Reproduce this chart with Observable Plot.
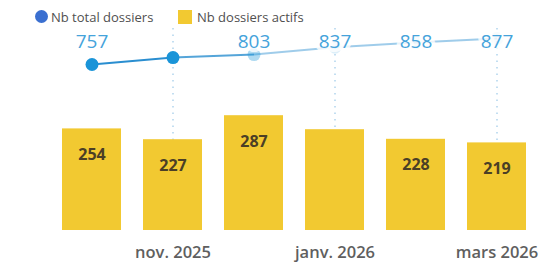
<!DOCTYPE html>
<html><head><meta charset="utf-8">
<script src="https://cdn.jsdelivr.net/npm/d3@7"></script>
<script src="https://cdn.jsdelivr.net/npm/@observablehq/plot@0.6"></script>
<style>
body{margin:0;background:#fff;font-family:"Open Sans",sans-serif;}
#wrap{position:relative;width:552px;height:275px;overflow:hidden;background:#fff}
#legend{position:relative;height:26px;width:552px;font-size:13px;color:#505050}
#legend .sw{position:absolute}
#legend .lt{position:absolute;top:8px;line-height:18px;white-space:nowrap}
#chart{position:relative;width:552px;height:249px}
#chart svg{position:absolute;left:0;top:0;overflow:visible}
</style></head><body>
<div id="wrap">
  <div id="legend">
    <span class="sw" style="left:35px;top:10px;width:13px;height:13px;border-radius:50%;background:#3a6fd0"></span>
    <span class="lt" style="left:51px">Nb total dossiers</span>
    <span class="sw" style="left:178px;top:10px;width:14px;height:14px;background:#F2C931"></span>
    <span class="lt" style="left:197px">Nb dossiers actifs</span>
  </div>
  <div id="chart"></div>
</div>
<script>
// ---- data ----
const months = ["oct. 2025", "nov. 2025", "déc. 2025", "janv. 2026", "févr. 2026", "mars 2026"];
const totalDossiers = [757, 789, 803, 837, 858, 877];
const totalLabelShown = [true, false, true, true, true, true];
const activeDossiers = [254, 227, 287, 252, 228, 219];
const activeLabelShown = [true, true, true, false, true, true];
const tickLabels = ["nov. 2025", "janv. 2026", "mars 2026"];

const rows = months.map((m, i) => ({
  month: m, i,
  total: totalDossiers[i], showTotal: totalLabelShown[i],
  active: activeDossiers[i], showActive: activeLabelShown[i]
}));
// consecutive segments of the total line (faded toward the right, as in the picture)
const segments = rows.slice(1).map((d, k) => ({m1: rows[k].month, t1: rows[k].total, m2: d.month, t2: d.total, k}));
const segOpacity = k => (k === 0 ? 1 : k === 1 ? 0.8 : 0.45);
const dotOpacity = i => (i < 2 ? 1 : i === 2 ? 0.35 : 0.15);

const W = 552, H = 249;
const xScale = {type: "band", domain: months, paddingInner: 0.268, paddingOuter: 0};
const margins = {marginLeft: 61, marginRight: 25};

// bars, grid, axis
const plotA = Plot.plot({
  width: W, height: H, ...margins, marginTop: 2, marginBottom: 45,
  style: {fontFamily: "'Open Sans', sans-serif", background: "transparent"},
  x: {...xScale, axis: null, label: null},
  y: {domain: [0, 505], axis: null},
  marks: [
    Plot.gridX(tickLabels, {stroke: "#9cc9e8", strokeOpacity: 1, strokeDasharray: "1.5,5", strokeWidth: 1.2}),
    Plot.barY(rows, {x: "month", y: "active", fill: "#F2C931"}),
    Plot.text(rows.filter(d => d.showActive), {
      x: "month", y: "active", text: d => String(d.active),
      dy: 26, fontSize: 16, fontWeight: "bold", fill: "#4b3f26"
    }),
    Plot.axisX(tickLabels, {tickSize: 0, tickPadding: 16, fontSize: 16.5, fontWeight: 600, fill: "#5f5f5f", label: null})
  ]
});

// line, points, labels
const plotB = Plot.plot({
  width: W, height: H, ...margins, marginTop: 15, marginBottom: 45,
  style: {fontFamily: "'Open Sans', sans-serif", background: "transparent"},
  x: {...xScale, axis: null, label: null},
  y: {domain: d3.extent(totalDossiers), range: [38, 12], axis: null},
  marks: [
    Plot.link(segments, {
      x1: "m1", y1: "t1", x2: "m2", y2: "t2",
      stroke: "#2a8ed0", strokeWidth: 2, strokeOpacity: d => segOpacity(d.k)
    }),
    Plot.dot(rows, {x: "month", y: "total", r: 6.5, fill: "#1a94d8", fillOpacity: d => dotOpacity(d.i)}),
    Plot.text(rows.filter(d => d.showTotal), {
      x: "month", frameAnchor: "top", lineAnchor: "middle", text: d => String(d.total),
      fontSize: 19, fill: "#45a3db", stroke: "white", strokeWidth: 8, strokeOpacity: 0.8
    })
  ]
});

document.getElementById("chart").append(plotA, plotB);
</script>
</body></html>
